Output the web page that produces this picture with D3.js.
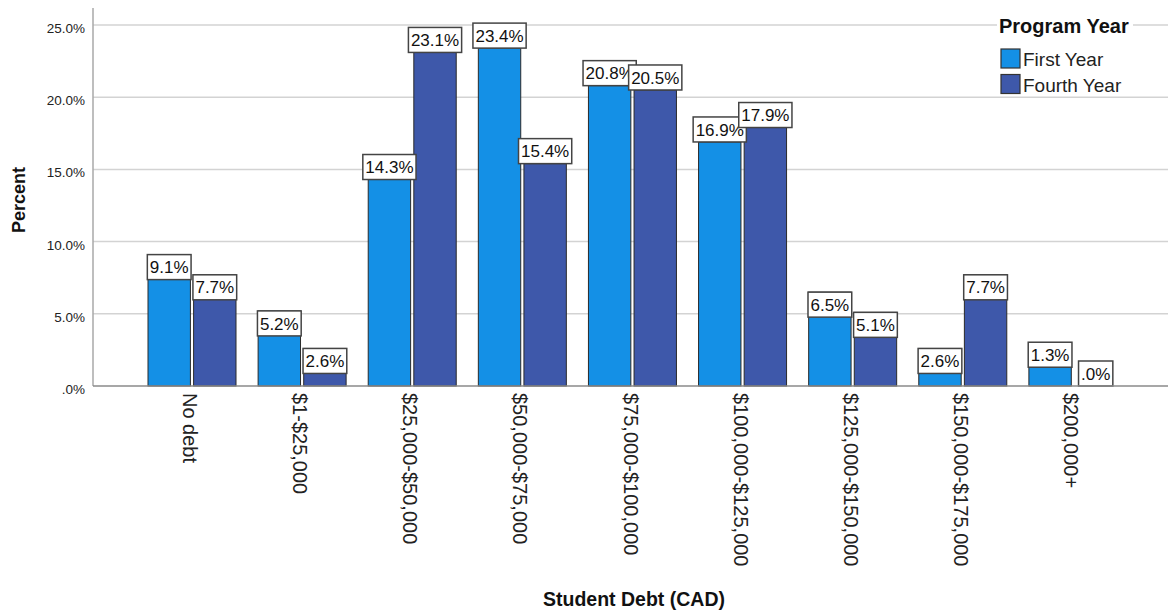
<!DOCTYPE html>
<html>
<head>
<meta charset="utf-8">
<script src="https://cdn.jsdelivr.net/npm/d3@7"></script>
<style>
  html, body { margin: 0; padding: 0; background: #fff; }
  svg { display: block; font-family: "Liberation Sans", Arial, sans-serif; }
</style>
</head>
<body>
<svg id="chart" width="1171" height="612"></svg>
<script>
const categories = ["No debt", "$1-$25,000", "$25,000-$50,000", "$50,000-$75,000", "$75,000-$100,000",
  "$100,000-$125,000", "$125,000-$150,000", "$150,000-$175,000", "$200,000+"];
const seriesNames = ["First Year", "Fourth Year"];
const firstYear = [9.1, 5.2, 14.3, 23.4, 20.8, 16.9, 6.5, 2.6, 1.3];
const fourthYear = [7.7, 2.6, 23.1, 15.4, 20.5, 17.9, 5.1, 7.7, 0.0];
const yTicks = [0, 5, 10, 15, 20, 25];
const seriesColors = ["#1490e6", "#3e58aa"];

const svg = d3.select("#chart");
const W = 1171, H = 612;
const axisX = 93, gridRight = 1168;

const y = d3.scaleLinear().domain([0, 25]).range([386, 25]);
const x0 = d3.scaleBand().domain(categories).range([137, 1128]).padding(0);
const x1 = d3.scaleBand().domain(seriesNames).range([11, 99]).paddingInner(0.07);

const fmt = v => d3.format(".1f")(v).replace(/^0\./, ".") + "%";

// gridlines
svg.append("g").selectAll("line").data(yTicks.filter(t => t > 0)).join("line")
  .attr("x1", axisX).attr("x2", gridRight)
  .attr("y1", d => y(d)).attr("y2", d => y(d))
  .attr("stroke", "#d3d3d3").attr("stroke-width", 1.5);

// y axis using d3 axis
const yAxis = d3.axisLeft(y).tickValues(yTicks).tickSize(0).tickPadding(8).tickFormat(fmt);
const gy = svg.append("g").attr("transform", `translate(${axisX},0)`).call(yAxis);
gy.select(".domain").remove();
gy.selectAll("text").attr("font-size", 13.5).attr("fill", "#222")
  .attr("font-family", "Liberation Sans, Arial, sans-serif").attr("dy", "0.55em");
svg.append("line").attr("x1", axisX).attr("x2", axisX).attr("y1", 8).attr("y2", y(0))
  .attr("stroke", "#a8a8a8").attr("stroke-width", 1.5);

// legend background (covers gridline behind it)
svg.append("rect").attr("x", 997).attr("y", 12).attr("width", 136).attr("height", 82).attr("fill", "#fff");

// bars
const rows = categories.map((c, i) => ({ cat: c, vals: [firstYear[i], fourthYear[i]] }));
const groups = svg.append("g").selectAll("g").data(rows).join("g")
  .attr("transform", d => `translate(${x0(d.cat)},0)`);

groups.selectAll("rect").data(d => d.vals.map((v, k) => ({ v, k }))).join("rect")
  .attr("x", d => x1(seriesNames[d.k]))
  .attr("width", x1.bandwidth())
  .attr("y", d => y(d.v))
  .attr("height", d => y(0) - y(d.v))
  .attr("fill", d => seriesColors[d.k])
  .attr("stroke", "#2a2a2a").attr("stroke-width", 1);

// baseline
svg.append("line").attr("x1", axisX).attr("x2", gridRight).attr("y1", y(0)).attr("y2", y(0))
  .attr("stroke", "#8a8a8a").attr("stroke-width", 1.5);

// data labels
const boxH = 25;
groups.each(function (d) {
  const g = d3.select(this);
  d.vals.forEach((v, k) => {
    const cx = x1(seriesNames[k]) + x1.bandwidth() / 2;
    const barH = y(0) - y(v);
    let top;
    if (v < 10 && barH >= boxH) top = y(v);
    else top = y(v) - boxH;
    const lg = g.append("g");
    const t = lg.append("text").attr("x", cx).attr("y", top + boxH / 2).attr("dy", "0.36em")
      .attr("text-anchor", "middle").attr("font-size", 17).attr("fill", "#111").text(fmt(v));
    const w = t.node().getComputedTextLength() + 5;
    lg.insert("rect", "text").attr("x", cx - w / 2).attr("y", top).attr("width", w).attr("height", boxH)
      .attr("fill", "#fff").attr("stroke", "#444").attr("stroke-width", 1.5);
  });
});

// x category labels (rotated)
svg.append("g").selectAll("text").data(categories).join("text")
  .attr("transform", d => `translate(${x0(d) + x0.bandwidth() / 2 - 2},393) rotate(90)`)
  .attr("dy", "0.35em").attr("text-anchor", "start").attr("font-size", 20).attr("fill", "#222")
  .text(d => d);

// axis titles
svg.append("text").attr("transform", "translate(25,200) rotate(-90)")
  .attr("text-anchor", "middle").attr("font-size", 18).attr("font-weight", "bold").attr("fill", "#111")
  .text("Percent");
svg.append("text").attr("x", 634).attr("y", 606)
  .attr("text-anchor", "middle").attr("font-size", 19.5).attr("font-weight", "bold").attr("fill", "#111")
  .text("Student Debt (CAD)");

// legend
const leg = svg.append("g");
leg.append("text").attr("x", 999).attr("y", 33).attr("font-size", 20).attr("font-weight", "bold").attr("fill", "#111")
  .text("Program Year");
seriesNames.forEach((s, k) => {
  const yy = 49 + k * 25.5;
  leg.append("rect").attr("x", 1001).attr("y", yy).attr("width", 19).attr("height", 19)
    .attr("fill", seriesColors[k]).attr("stroke", "#333").attr("stroke-width", 1.2);
  leg.append("text").attr("x", 1023).attr("y", yy + 17).attr("font-size", 19).attr("fill", "#222").text(s);
});
</script>
</body>
</html>
